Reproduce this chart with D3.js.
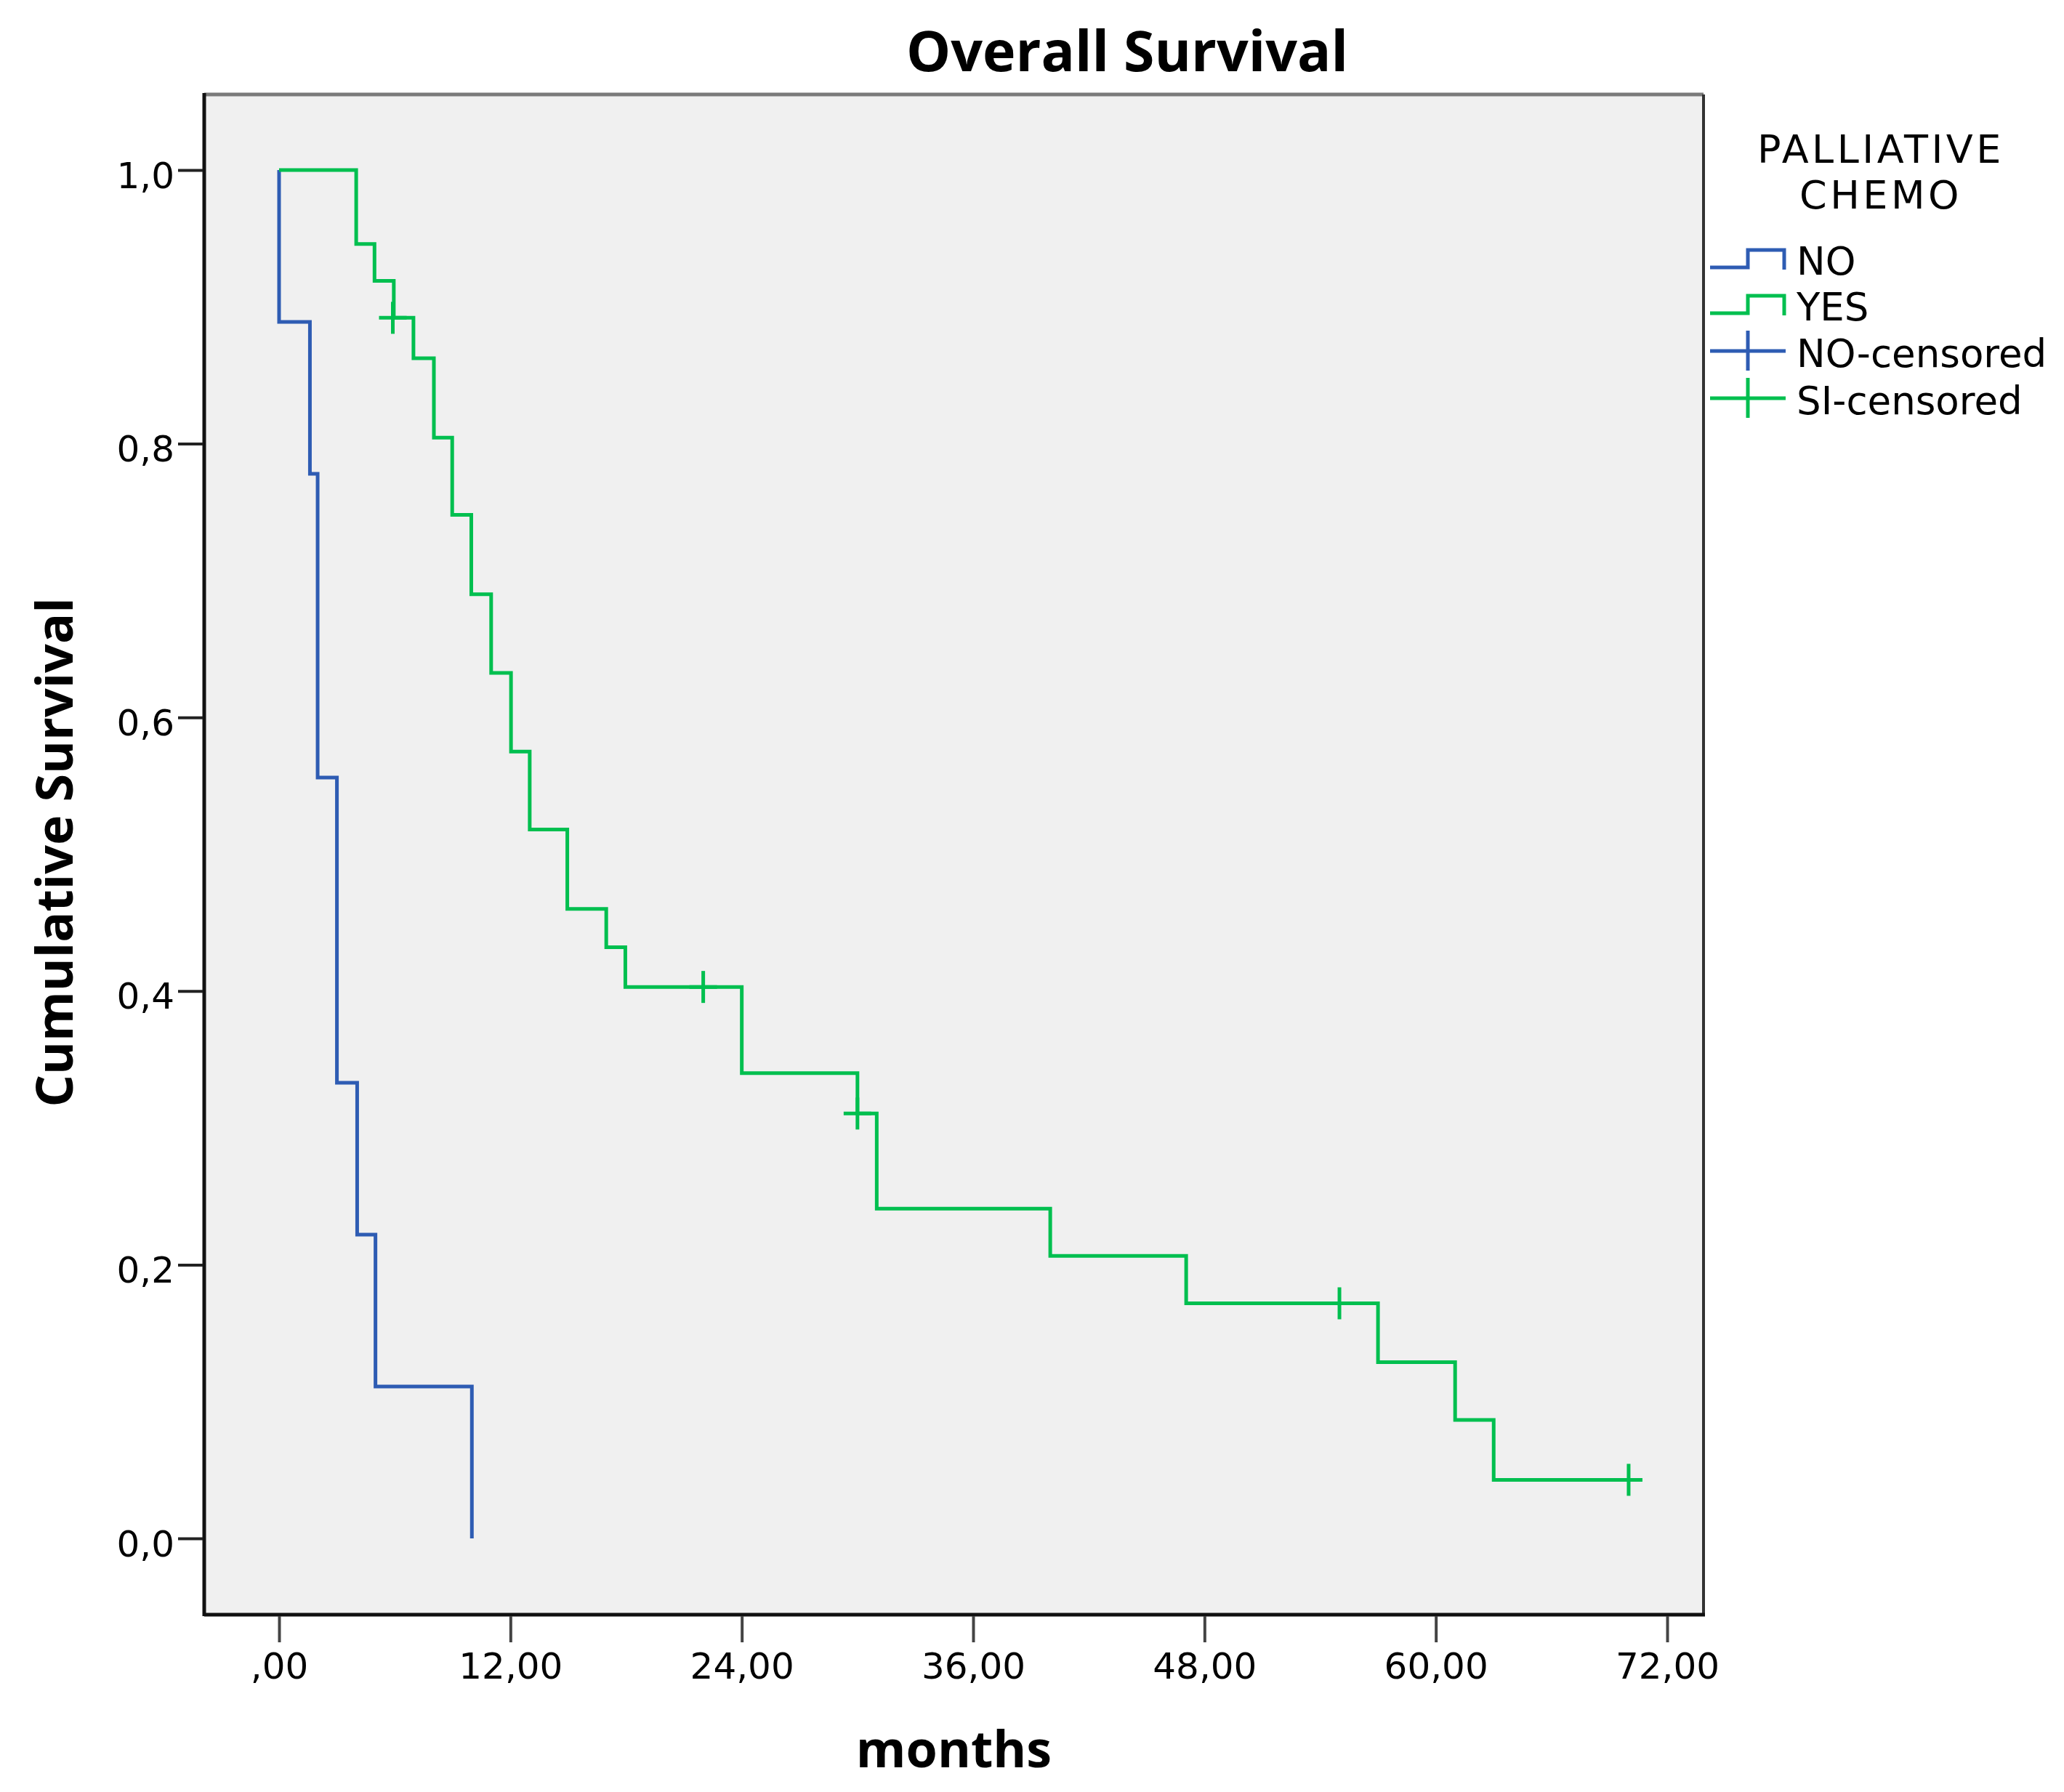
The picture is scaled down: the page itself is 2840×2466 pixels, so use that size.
<html>
<head>
  <title>Overall Survival</title>
  <script src="https://d3js.org/d3.v7.min.js"></script>
  <style>
    body{ margin:0; background:#fff; }
    text{ font-family:"DejaVu Sans", sans-serif; fill:#000; }
    .bold{ font-family:"Open Sans", sans-serif; font-weight:bold; }
  </style>
</head>
<body>
  <script>
// Kaplan-Meier steps (months, cumulative survival)
var noTimes   = [0, 0, 1.6, 2.0, 3.0, 4.05, 5.0, 10.0];
var noSurv    = [1, 0.889, 0.778, 0.556, 0.333, 0.222, 0.111, 0];

var yesTimes  = [0, 4.0, 4.95, 5.95, 6.97, 8.03, 8.98, 9.97, 11.0, 12.03, 13.0, 14.95,
                 16.97, 17.96, 24.0, 30.0, 31.0, 40.0, 47.05, 57.0, 61.0, 63.0, 70.0];
var yesSurv   = [1, 0.946, 0.919, 0.892, 0.8625, 0.8045, 0.748, 0.690, 0.6325, 0.575, 0.518, 0.460,
                 0.432, 0.403, 0.340, 0.3105, 0.241, 0.2064, 0.1718, 0.1288, 0.0866, 0.0428, 0.0428];

var yesCensTimes = [5.9, 22.0, 30.0, 55.0, 70.0];
var yesCensSurv  = [0.892, 0.403, 0.3105, 0.1718, 0.0428];

var xTicks = [0, 12, 24, 36, 48, 60, 72];
var yTicks = [0, 0.2, 0.4, 0.6, 0.8, 1.0];

var legendTitle = ["PALLIATIVE", "CHEMO"];
var legendLabels = ["NO", "YES", "NO-censored", "SI-censored"];

var blue = "#2e5cb3",
    green = "#00bf4f";

var width = 2840,
    height = 2466;

// plot frame
var frame = { left: 281, right: 2344, top: 130, bottom: 2222 };

var svg = d3.select("body")
  .append("svg")
  .attr("width", width)
  .attr("height", height);

var x = d3.scaleLinear().domain([0, 72]).range([384, 2294]);
var y = d3.scaleLinear().domain([0, 1]).range([2117, 234]);

svg.append("rect")
  .attr("x", frame.left)
  .attr("y", frame.top)
  .attr("width", frame.right - frame.left)
  .attr("height", frame.bottom - frame.top)
  .attr("fill", "#f0f0f0");

// frame lines: top/right grey, left/bottom black
svg.append("line").attr("x1", frame.left).attr("x2", frame.right).attr("y1", frame.top).attr("y2", frame.top)
  .attr("stroke", "#7a7a7a").attr("stroke-width", 5);
svg.append("line").attr("x1", frame.right).attr("x2", frame.right).attr("y1", frame.top).attr("y2", frame.bottom)
  .attr("stroke", "#333").attr("stroke-width", 4);
svg.append("line").attr("x1", frame.left).attr("x2", frame.left).attr("y1", frame.top - 2).attr("y2", frame.bottom + 2)
  .attr("stroke", "#111").attr("stroke-width", 5);
svg.append("line").attr("x1", frame.left).attr("x2", frame.right + 2).attr("y1", frame.bottom).attr("y2", frame.bottom)
  .attr("stroke", "#111").attr("stroke-width", 5);

// axes
var commaFmt = function(d, n){
  var s = d.toFixed(n).replace(".", ",");
  return s.indexOf("0,") === 0 && n === 2 ? s.slice(1) : s;
};

var xAxis = svg.append("g")
  .attr("transform", "translate(0," + (frame.bottom + 2) + ")")
  .call(d3.axisBottom(x).tickValues(xTicks).tickSize(36).tickSizeOuter(0)
    .tickFormat(function(d){ return commaFmt(d, 2); }));
xAxis.select(".domain").remove();
xAxis.selectAll("line").attr("stroke", "#444").attr("stroke-width", 4);
xAxis.selectAll("text")
  .attr("y", 86).attr("dy", 0)
  .style("font-family", "'DejaVu Sans', sans-serif")
  .style("font-size", "50px")
  .attr("fill", "#000");

var yAxis = svg.append("g")
  .attr("transform", "translate(" + (frame.left - 2) + ",0)")
  .call(d3.axisLeft(y).tickValues(yTicks).tickSize(34).tickSizeOuter(0)
    .tickFormat(function(d){ return commaFmt(d, 1); }));
yAxis.select(".domain").remove();
yAxis.selectAll("line").attr("stroke", "#222").attr("stroke-width", 4);
yAxis.selectAll("text")
  .attr("x", -39).attr("dy", "0.48em")
  .style("font-family", "'DejaVu Sans', sans-serif")
  .style("font-size", "50px")
  .attr("fill", "#000");

// survival curves
var step = d3.line()
  .x(function(d){ return x(d[0]); })
  .y(function(d){ return y(d[1]); })
  .curve(d3.curveStepAfter);

var curves = [
  { times: noTimes, surv: noSurv, color: blue },
  { times: yesTimes, surv: yesSurv, color: green }
];

svg.append("g").selectAll("path")
  .data(curves)
  .enter()
  .append("path")
  .attr("d", function(c){ return step(d3.zip(c.times, c.surv)); })
  .attr("fill", "none")
  .attr("stroke", function(c){ return c.color; })
  .attr("stroke-width", 5);

// censor marks
var cens = svg.append("g").selectAll("g")
  .data(d3.zip(yesCensTimes, yesCensSurv))
  .enter()
  .append("g")
  .attr("transform", function(d){ return "translate(" + x(d[0]) + "," + y(d[1]) + ")"; });
cens.append("line").attr("x1", -19).attr("x2", 19).attr("stroke", green).attr("stroke-width", 5);
cens.append("line").attr("y1", -22).attr("y2", 22).attr("stroke", green).attr("stroke-width", 5);

// titles
svg.append("text").attr("class", "bold")
  .attr("x", 1551).attr("y", 98)
  .attr("text-anchor", "middle")
  .style("font-size", "77px")
  .text("Overall Survival");

svg.append("text").attr("class", "bold")
  .attr("x", (frame.left + frame.right) / 2).attr("y", 2432)
  .attr("text-anchor", "middle")
  .style("font-size", "70px")
  .text("months");

svg.append("text").attr("class", "bold")
  .attr("transform", "translate(100,1173) rotate(-90)")
  .attr("text-anchor", "middle")
  .style("font-size", "70px")
  .text("Cumulative Survival");

// legend
var legend = svg.append("g");
legend.selectAll("text.head")
  .data(legendTitle)
  .enter()
  .append("text")
  .attr("class", "head")
  .attr("x", 2588)
  .attr("y", function(d, i){ return 224 + i * 63; })
  .attr("text-anchor", "middle")
  .style("font-size", "54px")
  .style("letter-spacing", "4.5px")
  .text(function(d){ return d; });

var legendY = [368, 431, 483, 548];
var legendColors = [blue, green, blue, green];

legend.selectAll("text.item")
  .data(legendLabels)
  .enter()
  .append("text")
  .attr("class", "item")
  .attr("x", 2472)
  .attr("y", function(d, i){ return legendY[i] + (i < 2 ? 10 : 22); })
  .style("font-size", "53px")
  .text(function(d){ return d; });

[0, 1].forEach(function(i){
  var yl = legendY[i];
  legend.append("path")
    .attr("d", "M2353," + yl + "H2405V" + (yl - 24) + "H2455V" + (yl + 3))
    .attr("fill", "none")
    .attr("stroke", legendColors[i])
    .attr("stroke-width", 5);
});
[2, 3].forEach(function(i){
  var yl = legendY[i];
  legend.append("line").attr("x1", 2353).attr("x2", 2457).attr("y1", yl).attr("y2", yl)
    .attr("stroke", legendColors[i]).attr("stroke-width", 5);
  legend.append("line").attr("x1", 2405).attr("x2", 2405).attr("y1", yl - 28).attr("y2", yl + 27)
    .attr("stroke", legendColors[i]).attr("stroke-width", 5);
});
  </script>
</body>
</html>
